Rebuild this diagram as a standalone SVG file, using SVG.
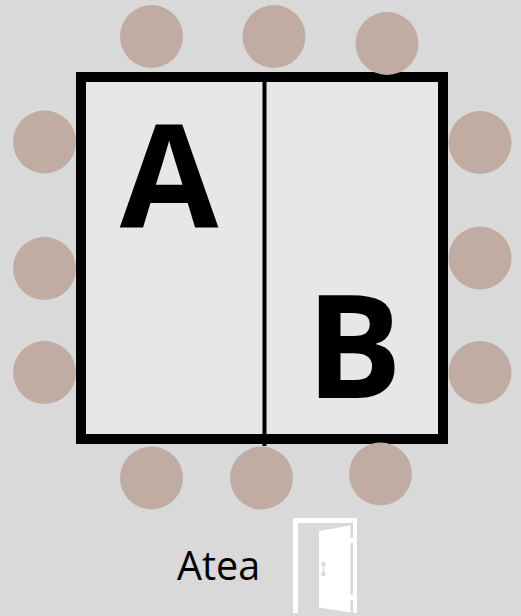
<svg xmlns="http://www.w3.org/2000/svg" width="521" height="616" viewBox="0 0 521 616">
<style>
.s{fill:#c1aca4}
.t{font-family:"Open Sans",sans-serif;fill:#000}
.big{font-size:143px;font-weight:700;text-anchor:middle}
.w{fill:#fff}
</style>
<rect width="521" height="616" fill="#d9d9d9"/>
<g id="table">
<rect x="81" y="77" width="362" height="362" fill="#e7e7e7" stroke="#000" stroke-width="10"/>
</g>
<g id="connectors">
<line x1="264.500" y1="80" x2="264.500" y2="446" stroke="#000" stroke-width="4"/>
</g>
<g id="label-a"><text class="t big" x="169" y="227">A</text></g>
<g id="label-b"><text class="t big" x="354" y="398">B</text></g>
<g id="seats">
<circle id="seat-1" class="s" cx="151.500" cy="36.500" r="31.500"/>
<circle id="seat-2" class="s" cx="274" cy="36.500" r="31.500"/>
<circle id="seat-3" class="s" cx="387" cy="43.500" r="31.500"/>
<circle id="seat-4" class="s" cx="44.500" cy="142" r="31.500"/>
<circle id="seat-5" class="s" cx="44.500" cy="268.500" r="31.500"/>
<circle id="seat-6" class="s" cx="44.500" cy="372.500" r="31.500"/>
<circle id="seat-7" class="s" cx="480" cy="142.500" r="31.500"/>
<circle id="seat-8" class="s" cx="480" cy="258" r="31.500"/>
<circle id="seat-9" class="s" cx="480" cy="372.500" r="31.500"/>
<circle id="seat-10" class="s" cx="151.500" cy="478" r="31.500"/>
<circle id="seat-11" class="s" cx="261.500" cy="478" r="31.500"/>
<circle id="seat-12" class="s" cx="380.500" cy="474" r="31.500"/>
</g>
<g id="atea"><text class="t" x="177" y="580" font-size="39.500">Atea</text></g>
<g id="door">
<path class="w" d="M293 613V518H357V613H353V523H298V613Z"/>
<path class="w" d="M319 531L350.500 525.500V612.500L319 607.500Z"/>
<rect class="w" x="350" y="538" width="4" height="5"/>
<rect class="w" x="350" y="595" width="4" height="5"/>
<line x1="323.500" y1="564" x2="323.500" y2="574" stroke="#d9d9d9" stroke-width="1.500"/>
<circle cx="323.500" cy="564" r="2.300" fill="#d9d9d9"/>
<circle cx="323.500" cy="574" r="2.300" fill="#d9d9d9"/>
</g>
</svg>
